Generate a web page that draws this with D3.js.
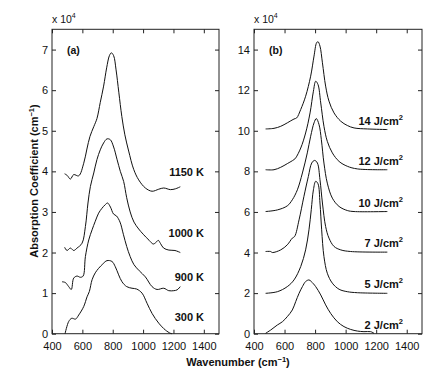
<!DOCTYPE html>
<html><head><meta charset="utf-8">
<script src="https://cdn.jsdelivr.net/npm/d3@7"></script>
<style>body{margin:0;background:#fff}svg{display:block}text{font-family:"Liberation Sans",Arial,Helvetica,sans-serif;fill:#111}</style>
</head><body><svg id="c" width="435" height="375"></svg>
<script>
// ---- data (absorption coefficient in units of 10^4 cm^-1) ----
const xTicks = [400, 600, 800, 1000, 1200, 1400];
const yTicksA = [0, 1, 2, 3, 4, 5, 6, 7];
const yTicksB = [0, 2, 4, 6, 8, 10, 12, 14];

const labelsA = ["1150 K", "1000 K", "900 K", "300 K"];
const labelPosA = [3.89, 2.39, 1.3, 0.31];
const labelsB = ["14", "12", "10", "7", "5", "2"];
const labelPosB = [10.26, 8.33, 6.26, 4.25, 2.26, 0.25];

const k1150x = [483,500,521,543,576,609,630,650,675,696,718,740,760,778,791,806,822,840,860,880,905,938,971,1015,1059,1103,1136,1180,1213,1245];
const k1150y = [3.94,3.9,3.81,3.92,3.89,4.2,4.55,4.86,5.1,5.3,5.7,6.1,6.55,6.85,6.92,6.85,6.5,5.95,5.35,4.9,4.5,4.05,3.79,3.59,3.51,3.56,3.59,3.55,3.57,3.62];

const k1000x = [483,499,521,543,565,598,620,637,653,675,696,718,740,762,784,806,828,850,872,892,915,940,971,1001,1040,1067,1085,1100,1115,1135,1170,1210,1245];
const k1000y = [2.13,2.05,2.11,2.05,2.11,2.23,2.64,3.22,3.63,3.96,4.29,4.53,4.7,4.8,4.78,4.6,4.3,4.0,3.75,3.35,3.0,2.75,2.58,2.45,2.3,2.21,2.25,2.3,2.22,2.11,2.06,2.05,2.0];

const k900x = [466,488,510,527,543,565,587,605,620,642,664,685,707,729,751,766,785,805,825,848,870,892,915,940,975,1015,1059,1092,1136,1169,1202,1224,1245];
const k900y = [1.28,1.26,1.16,1.09,1.37,1.42,1.39,1.42,1.9,2.31,2.56,2.77,2.97,3.09,3.18,3.22,3.12,2.95,2.9,2.75,2.45,2.15,1.9,1.7,1.55,1.4,1.16,1.09,1.12,1.06,1.06,1.08,1.16];

const k300x = [486,510,530,555,576,609,631,646,664,685,707,735,762,795,817,839,861,892,927,958,993,1026,1059,1103,1147,1180,1191];
const k300y = [0.0,0.3,0.38,0.36,0.46,0.67,0.91,1.04,1.33,1.5,1.61,1.72,1.8,1.78,1.65,1.45,1.28,1.16,1.12,1.1,1.0,0.75,0.5,0.26,0.09,0.01,0.0];

const j14x = [476,531,575,618,662,679,706,738,771,793,810,819,832,848,869,891,924,968,1011,1055,1142,1273];
const j14y = [10.09,10.12,10.22,10.39,10.58,10.63,11.05,11.7,12.69,13.68,14.34,14.39,14.17,13.35,12.2,11.46,10.88,10.47,10.26,10.14,10.09,10.06];

const j12x = [476,531,575,618,662,673,706,738,767,789,804,819,837,858,880,913,957,1011,1077,1273];
const j12y = [8.08,8.08,8.2,8.38,8.58,8.66,9.15,9.89,10.88,11.95,12.44,12.28,11.37,10.22,9.48,8.91,8.49,8.25,8.12,8.08];

const j10x = [476,553,618,651,684,717,749,771,793,808,826,841,858,880,913,957,1011,1055,1273];
const j10y = [6.02,6.1,6.3,6.6,7.09,7.92,8.91,9.73,10.39,10.6,10.3,9.56,8.41,7.42,6.68,6.27,6.07,6.02,6.02];

const j7x = [476,509,520,575,618,651,666,695,727,756,778,797,815,832,848,869,891,924,968,1033,1273];
const j7y = [4.05,4.05,4.0,4.13,4.38,4.71,4.79,5.61,6.77,7.75,8.41,8.54,8.41,7.59,6.44,5.28,4.71,4.3,4.13,4.05,4.02];

const j5x = [476,553,618,662,706,738,760,775,789,804,819,832,843,858,880,913,957,1011,1077,1273];
const j5y = [1.99,2.07,2.32,2.65,3.31,4.13,5.12,6.11,7.09,7.51,7.39,6.44,5.12,3.8,2.98,2.49,2.19,2.07,2.02,1.99];

const j2x = [476,509,553,586,618,651,673,695,717,738,760,775,804,837,869,902,946,989,1033,1077,1120,1164,1186];
const j2y = [0.02,0.18,0.43,0.59,0.84,1.17,1.58,1.99,2.32,2.57,2.65,2.57,2.32,1.91,1.42,1.0,0.59,0.35,0.21,0.13,0.1,0.1,0.02];

const seriesA = [[k1150x,k1150y],[k1000x,k1000y],[k900x,k900y],[k300x,k300y]];
const seriesB = [[j14x,j14y],[j12x,j12y],[j10x,j10y],[j7x,j7y],[j5x,j5y],[j2x,j2y]];

// ---- drawing ----
const svg = d3.select("#c");
svg.append("rect").attr("width",435).attr("height",375).attr("fill","#fff");
const plotTop = 29.3, plotBottom = 333.7;
const fmt = d3.format("d");

function panel(x0, x1, yMax, yTicks, series, tag) {
  const x = d3.scaleLinear().domain([400,1500]).range([x0,x1]);
  const y = d3.scaleLinear().domain([0,yMax]).range([plotBottom,plotTop]);
  const g = svg.append("g");
  const tl = 4;
  const ax = (a, t) => a.tickValues(t).tickSizeInner(-tl).tickSizeOuter(0).tickPadding(6).tickFormat(fmt);
  const gb = g.append("g").attr("transform",`translate(0,${plotBottom})`).call(ax(d3.axisBottom(x), xTicks));
  const gt = g.append("g").attr("transform",`translate(0,${plotTop})`).call(ax(d3.axisTop(x), xTicks).tickFormat(""));
  const gl = g.append("g").attr("transform",`translate(${x0},0)`).call(ax(d3.axisLeft(y), yTicks).tickPadding(4));
  const gr = g.append("g").attr("transform",`translate(${x1},0)`).call(ax(d3.axisRight(y), yTicks).tickFormat(""));
  [gb,gt,gl,gr].forEach(a => { a.select(".domain").remove(); a.selectAll("line").attr("stroke","#222");
    a.selectAll("text").attr("font-size",11).attr("fill","#111").attr("font-family","Liberation Sans, Arial, sans-serif"); });
  gb.selectAll("text").attr("dy","0.9em");
  g.append("rect").attr("x",x0).attr("y",plotTop).attr("width",x1-x0).attr("height",plotBottom-plotTop)
    .attr("fill","none").attr("stroke","#222").attr("stroke-width",1);
  const line = d3.line().x(d=>x(d[0])).y(d=>y(d[1])).curve(d3.curveCatmullRom.alpha(0.5));
  series.forEach(s => {
    g.append("path").attr("d", line(s[0].map((v,i)=>[v,s[1][i]])))
      .attr("fill","none").attr("stroke","#111").attr("stroke-width",1);
  });
  const t = g.append("text").attr("x",x0).attr("y",plotTop-6).attr("font-size",10.5).text("x 10");
  t.append("tspan").attr("dy",-5).attr("font-size",7).text("4");
  g.append("text").attr("x",x0+15).attr("y",plotTop+25).attr("font-size",10.5).attr("font-weight","bold").text(tag);
  return {x, y, g};
}

const A = panel(52, 219, 7.5, yTicksA, seriesA, "(a)");
const B = panel(254, 422, 15, yTicksB, seriesB, "(b)");

labelsA.forEach((l,i) => {
  A.g.append("text").attr("x",204).attr("y",A.y(labelPosA[i])).attr("text-anchor","end")
    .attr("font-size",11).attr("font-weight","bold").text(l);
});
labelsB.forEach((l,i) => {
  const t = B.g.append("text").attr("x",403).attr("y",B.y(labelPosB[i])).attr("text-anchor","end")
    .attr("font-size",11).attr("font-weight","bold").text(l + " J/cm");
  t.append("tspan").attr("dy",-5).attr("font-size",7.5).text("2");
});

const yl = svg.append("text").attr("transform","translate(37.5,181) rotate(-90)").attr("text-anchor","middle")
  .attr("font-size",11).attr("font-weight","bold").text("Absorption Coefficient (cm");
yl.append("tspan").attr("dy",-4).attr("font-size",7.5).text("−1");
yl.append("tspan").attr("dy",4).text(")");
const xl = svg.append("text").attr("x",238).attr("y",366).attr("text-anchor","middle")
  .attr("font-size",11).attr("font-weight","bold").text("Wavenumber (cm");
xl.append("tspan").attr("dy",-4).attr("font-size",7.5).text("−1");
xl.append("tspan").attr("dy",4).text(")");
</script></body></html>
